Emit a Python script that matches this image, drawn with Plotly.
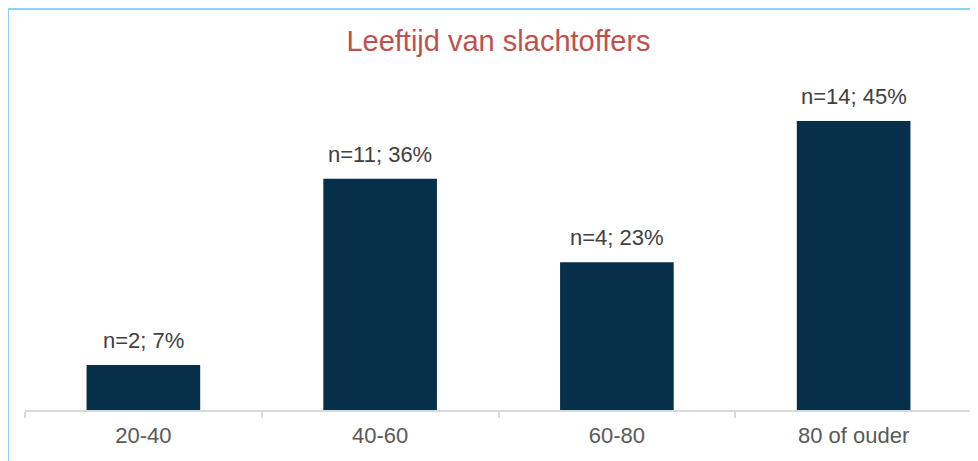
import plotly.graph_objects as go

categories = ["20-40", "40-60", "60-80", "80 of ouder"]
percentages = [7, 36, 23, 45]
labels = ["n=2; 7%", "n=11; 36%", "n=4; 23%", "n=14; 45%"]
title_text = "Leeftijd van slachtoffers"

# page body has an 8px margin, so the figure is offset by 8px
W, H = 970, 453
ml, mr, mt, mb = 17, 6, 72, 51
plot_w = W - ml - mr
plot_h = H - mt - mb

fig = go.Figure()
fig.add_trace(go.Bar(
    x=categories, y=percentages,
    marker=dict(color="#06304A", line=dict(width=0)),
    hoverinfo="skip",
))

for c, v, t in zip(categories, percentages, labels):
    fig.add_annotation(
        x=c, y=v, text=t, showarrow=False, yanchor="bottom",
        yshift=10, font=dict(family="Liberation Sans, Arial", size=22, color="#404040"),
    )

def px_to_paper_x(px):
    return (px - ml) / plot_w

def px_to_paper_y(py):
    return (H - mb - py) / plot_h

# light-blue chart border (extends beyond the visible crop at right/bottom)
fig.add_shape(
    type="rect", xref="paper", yref="paper",
    x0=px_to_paper_x(0), x1=px_to_paper_x(W + 20),
    y0=px_to_paper_y(H + 20), y1=px_to_paper_y(1),
    line=dict(color="#8CD2F2", width=2), fillcolor="rgba(0,0,0,0)",
)

fig.update_layout(
    width=W, height=H,
    margin=dict(l=ml, r=mr, t=mt, b=mb),
    paper_bgcolor="white", plot_bgcolor="white",
    showlegend=False,
    bargap=0.52,
    title=dict(
        text=title_text, x=0.5, xref="paper", xanchor="center",
        y=1 - 33 / H, yref="container", yanchor="middle",
        font=dict(family="Liberation Sans, Arial", size=29, color="#C0504D"),
    ),
    xaxis=dict(
        showline=True, linecolor="#D9D9D9", linewidth=2,
        ticks="outside", tickson="boundaries", ticklen=6, tickcolor="#D9D9D9", tickwidth=2,
        tickfont=dict(family="Liberation Sans, Arial", size=22, color="#595959"),
        ticklabelstandoff=5,
        showgrid=False, zeroline=False,
    ),
    yaxis=dict(
        range=[0, plot_h * 45 / 289], visible=False, showgrid=False, zeroline=False,
    ),
)

fig.write_html("out.html")
